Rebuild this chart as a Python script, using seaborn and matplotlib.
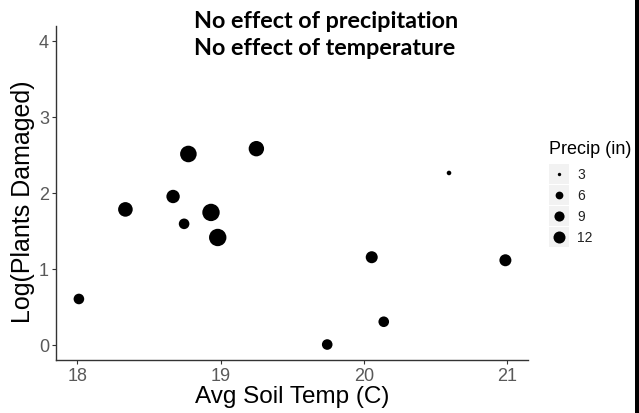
import numpy as np
import pandas as pd
import matplotlib
matplotlib.use("Agg")
import matplotlib.pyplot as plt
from matplotlib.patches import Rectangle
from matplotlib.lines import Line2D
import seaborn as sns

# Site-level observations
soil_temp = [18.01, 18.335, 18.668, 18.745, 18.775, 18.933, 18.98, 19.25,
             19.745, 20.056, 20.14, 20.596, 20.99]
log_damaged = [0.60, 1.78, 1.95, 1.59, 2.51, 1.74, 1.41, 2.58,
               0.00, 1.15, 0.30, 2.26, 1.11]
precip = [9.7, 17.2, 14.6, 9.7, 21.9, 24.0, 24.0, 19.0,
          9.7, 12.0, 9.7, 3.5, 12.0]
legend_breaks = [3, 6, 9, 12]
x_ticks = [18, 19, 20, 21]
y_ticks = [0, 1, 2, 3, 4]
title_lines = ["No effect of precipitation", "No effect of temperature"]

DPI = 100
W, H = 639, 414


def marker_diam_px(v):
    """Marker diameter (pixels) for a precipitation amount."""
    return 1.5 + 10.5 * np.sqrt(max(v - 2.7, 0) / 9.3)


def marker_area_pt2(v):
    d_pt = marker_diam_px(v) * 72.0 / DPI
    return d_pt ** 2


df = pd.DataFrame({"temp": soil_temp, "logdmg": log_damaged, "precip": precip})

sns.set_style("ticks")
plt.rcParams["font.family"] = ["Liberation Sans", "DejaVu Sans"]

fig = plt.figure(figsize=(W / DPI, H / DPI), dpi=DPI)
fig.patch.set_facecolor("white")


def fx(px):
    return px / W


def fy(py):
    return 1 - py / H


ax_left, ax_right, ax_top, ax_bottom = 56, 528.3, 26.7, 360.7
ax = fig.add_axes([fx(ax_left), fy(ax_bottom), fx(ax_right) - fx(ax_left),
                   fy(ax_top) - fy(ax_bottom)])

size_map = {v: marker_area_pt2(v) for v in sorted(set(precip))}
sns.scatterplot(data=df, x="temp", y="logdmg", size="precip", sizes=size_map,
                color="black", edgecolor="none", linewidth=0, legend=False, ax=ax)

ax.set_xlim(17.85, 21.15)
ax.set_ylim(-0.2, 4.2)
ax.set_xticks(x_ticks)
ax.set_yticks(y_ticks)
ax.set_xticklabels([str(t) for t in x_ticks])
ax.set_yticklabels([str(t) for t in y_ticks])

for side in ["top", "right"]:
    ax.spines[side].set_visible(False)
for side in ["left", "bottom"]:
    ax.spines[side].set_color("#333333")
    ax.spines[side].set_linewidth(1.0)

ax.tick_params(axis="both", direction="out", length=3, width=0.8,
               color="#333333", labelcolor="#595959", labelsize=13, pad=2)

ax.set_xlabel("Avg Soil Temp (C)", fontsize=17.5, color="black", labelpad=1)
ax.set_ylabel("Log(Plants Damaged)", fontsize=18, color="black")
ax.yaxis.set_label_coords((35 - ax_left) / (ax_right - ax_left), 0.477)

# Title block
for i, line in enumerate(title_lines):
    fig.text(fx(194), fy(28.5 + i * 26.7), line, fontsize=16.8, fontweight="bold",
             family=["Lato", "DejaVu Sans"], ha="left", va="baseline", color="black")

# Size legend
fig.text(fx(549), fy(150), "Precip (in)", fontsize=13, ha="left", va="center",
         color="black")
key_w, key_h = 20, 20.5
for i, v in enumerate(legend_breaks):
    cy = 175 + i * 21
    fig.patches.append(Rectangle((fx(549), fy(cy + key_h / 2)), fx(key_w),
                                 key_h / H, transform=fig.transFigure,
                                 facecolor="#F2F2F2", edgecolor="none"))
    fig.add_artist(Line2D([fx(559)], [fy(cy)], transform=fig.transFigure,
                          marker="o", linestyle="none", color="black",
                          markeredgewidth=0,
                          markersize=marker_diam_px(v) * 72.0 / DPI))
    fig.text(fx(577), fy(cy), str(v), fontsize=10, ha="left", va="center",
             color="#222222")

# Dark frame edge along the right side
fig.patches.append(Rectangle((fx(635), 0), fx(4), 1, transform=fig.transFigure,
                             facecolor="black", edgecolor="none"))

fig.savefig("out.png", dpi=DPI, facecolor="white")
